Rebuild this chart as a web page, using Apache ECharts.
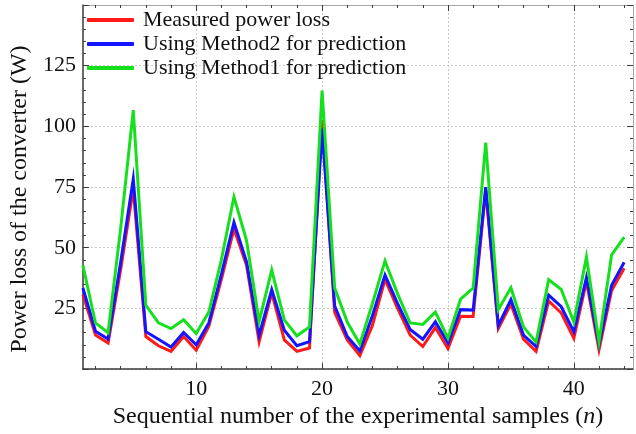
<!DOCTYPE html>
<html>
<head>
<meta charset="utf-8">
<script src="https://cdn.jsdelivr.net/npm/echarts@6/dist/echarts.min.js"></script>
<style>
  html, body { margin: 0; padding: 0; background: #fff; }
  #chart { width: 636px; height: 434px; }
</style>
</head>
<body>
<div id="chart"></div>
<script>
// Sample index of each experiment
const samples = [1, 2, 3, 4, 5, 6, 7, 8, 9, 10, 11, 12, 13, 14, 15, 16, 17, 18, 19, 20, 21, 22,
  23, 24, 25, 26, 27, 28, 29, 30, 31, 32, 33, 34, 35, 36, 37, 38, 39, 40, 41, 42, 43, 44];

// Power loss (W)
const measured = [30.8, 14.0, 10.7, 41, 74.3, 13.4, 9.6, 7.3, 13.4, 7.8,
  17.6, 37, 57.8, 42.8, 11.3, 31.4, 12.0, 7.3, 8.7, 102.7,
  23.4, 12.0, 5.6, 18, 37.0, 25, 14.0, 9.3, 17.1, 8.4,
  21.8, 21.7, 73.6, 16.7, 26.8, 12.3, 7.3, 28.1, 23.1, 12.7,
  36.1, 8.0, 32.4, 41.5];
const method2 = [33.4, 15.6, 12.4, 44, 78.3, 15.4, 12.3, 9.1, 15.1, 10.0,
  19.0, 39, 60.5, 44.2, 14.0, 32.8, 16.0, 9.6, 11.3, 99.1,
  26.1, 13.4, 7.5, 22, 38.8, 27, 16.3, 12.3, 19.5, 10.7,
  24.5, 24.3, 75.0, 18.0, 28.6, 14.0, 9.3, 30.5, 25.7, 15.4,
  37.7, 10.0, 34.5, 44.0];
const method1 = [42.8, 19.0, 15.0, 58, 106.7, 26.3, 19.1, 16.7, 20.3, 14.7,
  23.5, 45, 71.0, 52.9, 19.6, 40.8, 20.3, 13.7, 17.4, 114.7,
  33.4, 19.4, 10.3, 27, 44.6, 31, 19.0, 18.4, 23.5, 12.7,
  28.8, 33.4, 93.3, 24.5, 33.5, 17.4, 11.1, 36.8, 32.8, 19.4,
  46.2, 11.3, 47.1, 54.4];

const seriesNames = ['Measured power loss', 'Using Method2 for prediction', 'Using Method1 for prediction'];
const xLabelValues = [10, 20, 30, 40];
const xMinorValues = [2, 4, 6, 8, 12, 14, 16, 18, 22, 24, 26, 28, 32, 34, 36, 38, 42, 44];

const FONT = '"Liberation Serif", "Times New Roman", serif';
const dark = '#3a3a3a';
const light = '#a8a8a8';
const pair = (ys) => samples.map((x, i) => [x, ys[i]]);

const chart = echarts.init(document.getElementById('chart'), null, { renderer: 'canvas' });

const baseX = { type: 'value', min: 1, max: 44.7, gridIndex: 0 };
const hideAll = { axisLine: { show: false }, axisLabel: { show: false }, splitLine: { show: false } };

chart.setOption({
  animation: false,
  backgroundColor: '#ffffff',
  grid: { left: 77.7, right: 3, top: 5, bottom: 54, containLabel: false },
  legend: {
    orient: 'vertical',
    left: 82,
    top: 4,
    itemWidth: 47,
    itemHeight: 4,
    itemGap: 2,
    icon: 'roundRect',
    textStyle: { fontFamily: FONT, fontSize: 22, color: '#111', padding: [0, 0, 0, 4] },
    data: seriesNames
  },
  xAxis: [
    Object.assign({}, baseX, {
      position: 'bottom',
      name: 'Sequential number of the experimental samples ({i|n})',
      nameLocation: 'middle',
      nameGap: 32,
      nameTextStyle: {
        fontFamily: FONT, fontSize: 24, color: '#111',
        rich: { i: { fontFamily: FONT, fontSize: 24, fontStyle: 'italic', color: '#111' } }
      },
      axisLine: { show: true, lineStyle: { color: dark, width: 1.5 } },
      axisTick: { show: true, inside: true, length: 6, customValues: xLabelValues, lineStyle: { color: dark } },
      axisLabel: { show: true, customValues: xLabelValues, fontFamily: FONT, fontSize: 22, color: '#111', margin: 9 },
      splitLine: { show: true, lineStyle: { color: '#c8c8c8', type: [2, 2], width: 1 } }
    }),
    Object.assign({}, baseX, hideAll, {
      position: 'bottom',
      axisTick: { show: true, inside: true, length: 3, customValues: xMinorValues, lineStyle: { color: dark } }
    }),
    Object.assign({}, baseX, {
      position: 'top',
      axisLine: { show: true, lineStyle: { color: light, width: 1 } },
      axisTick: { show: true, inside: true, length: 6, customValues: xLabelValues, lineStyle: { color: dark } },
      axisLabel: { show: false },
      splitLine: { show: false }
    }),
    Object.assign({}, baseX, hideAll, {
      position: 'top',
      axisTick: { show: true, inside: true, length: 3, customValues: xMinorValues, lineStyle: { color: dark } }
    })
  ],
  yAxis: [
    {
      type: 'value', min: 0, max: 150, interval: 25, position: 'left',
      name: 'Power loss of the converter (W)',
      nameLocation: 'middle',
      nameGap: 46,
      nameTextStyle: { fontFamily: FONT, fontSize: 24, color: '#111', padding: [0, 24, 0, 0] },
      axisLine: { show: true, lineStyle: { color: dark, width: 1.5 } },
      axisTick: { show: true, inside: true, length: 6, lineStyle: { color: dark } },
      minorTick: { show: true, splitNumber: 5, length: 3, lineStyle: { color: dark } },
      axisLabel: {
        fontFamily: FONT, fontSize: 22, color: '#111', margin: 7,
        formatter: (v) => (v === 0 || v === 150 ? '' : String(v))
      },
      splitLine: { show: true, lineStyle: { color: '#c8c8c8', type: [2, 2], width: 1 } }
    },
    {
      type: 'value', min: 0, max: 150, interval: 25, position: 'right',
      axisLine: { show: true, lineStyle: { color: light, width: 1 } },
      axisTick: { show: true, inside: true, length: 6, lineStyle: { color: dark } },
      minorTick: { show: true, splitNumber: 5, length: 3, lineStyle: { color: dark } },
      axisLabel: { show: false },
      splitLine: { show: false }
    }
  ],
  series: [
    { name: seriesNames[0], data: measured, color: '#ff1a1a' },
    { name: seriesNames[1], data: method2, color: '#1414ff' },
    { name: seriesNames[2], data: method1, color: '#16e01e' }
  ].map((s, k) => ({
    name: s.name,
    type: 'line',
    xAxisIndex: 0,
    yAxisIndex: 0,
    data: pair(s.data),
    symbol: 'none',
    z: 2 + k,
    lineStyle: { width: 3, color: s.color, join: 'miter' },
    itemStyle: { color: s.color }
  }))
});
</script>
</body>
</html>
